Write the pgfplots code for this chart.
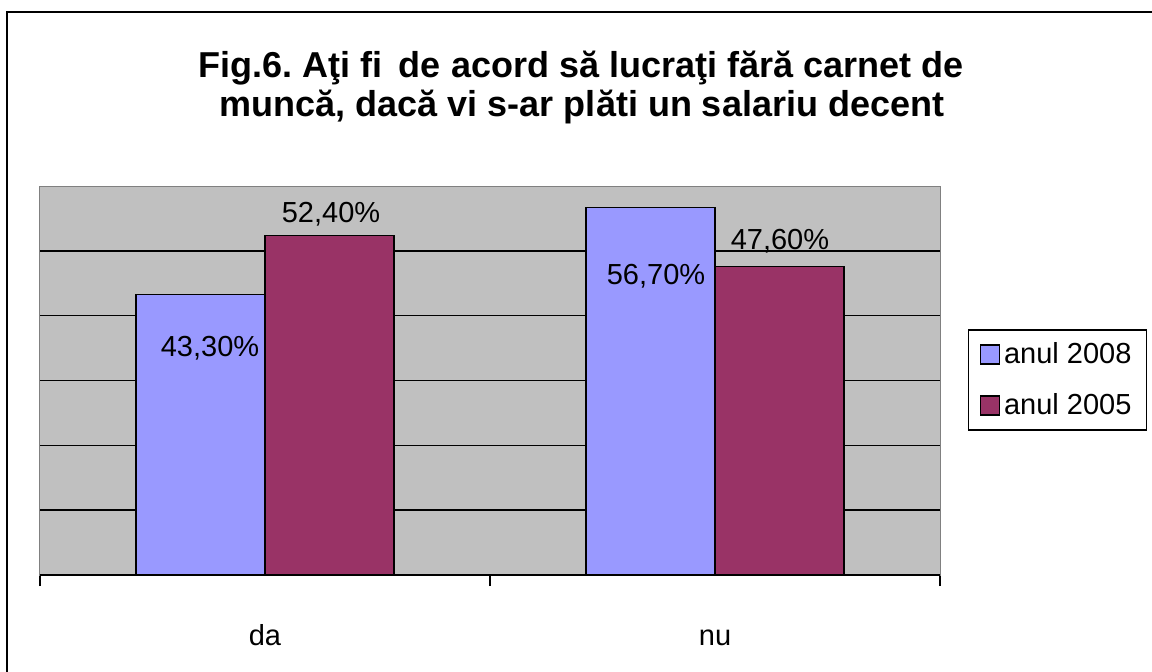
\documentclass[border=0pt]{standalone}
\usepackage{fontspec}
\setmainfont{Liberation Sans}
\usepackage{pgfplots}
\pgfplotsset{compat=1.18}
\definecolor{c2008}{HTML}{9999FF}
\definecolor{c2005}{HTML}{993366}
\definecolor{bgc}{HTML}{C0C0C0}
\frenchspacing
\begin{document}
\begin{tikzpicture}
\path[use as bounding box] (0,0) rectangle (576pt,335.5pt);
\fill[white] (0,0) rectangle (576pt,335.5pt);
\draw[line width=0.8pt] (3.5pt,-1pt) -- (3.5pt,329.5pt) -- (577pt,329.5pt);
\node[font=\fontsize{18}{19}\selectfont\bfseries, anchor=base, inner sep=0pt] at (290.5pt,296.5pt) {Fig.6. Aţi fi\hspace{0.45em}de acord să lucraţi fără carnet de};
\node[font=\fontsize{18}{19}\selectfont\bfseries, anchor=base, inner sep=0pt] at (291pt,277pt) {muncă, dacă vi s-ar plăti un salariu decent};
\begin{axis}[
  at={(20pt,48pt)}, anchor=south west,
  width=450pt, height=194.5pt, scale only axis,
  xmin=-0.5, xmax=1.5, ymin=0, ymax=60,
  axis background/.style={fill=bgc},
  axis line style={draw=gray, line width=0.5pt},
  ytick={10,20,30,40,50}, yticklabels={}, ytick style={draw=none},
  ymajorgrids, major grid style={black, line width=0.75pt},
  xtick={-0.5,0.5,1.5}, xticklabels={}, xtick pos=bottom, xtick align=outside,
  major tick length=5.5pt, xtick style={black, line width=0.75pt},
  sq legend/.style={legend image code/.code={\draw[##1, line width=0.75pt] (0pt,-4.7pt) rectangle (9.4pt,4.7pt);}},
  legend style={at={(1.0311,0.6324)}, anchor=north west, draw=black, line width=0.75pt,
    font=\fontsize{14.5}{17}\selectfont, inner xsep=5.5pt, inner ysep=4.3pt, row sep=9.5pt,
    cells={anchor=west}},
  legend cell align=left,
  font=\fontsize{14.5}{17}\selectfont,
  clip=false,
  after end axis/.code={\draw[black, line width=0.9pt] (rel axis cs:0,0) -- (rel axis cs:1,0);}
]
\addplot[ybar, bar width=0.2867, bar shift=-0.1433, fill=c2008, draw=black, line width=0.75pt, sq legend] coordinates {(0,43.3) (1,56.7)};
\addplot[ybar, bar width=0.2867, bar shift=0.1433, fill=c2005, draw=black, line width=0.75pt, sq legend] coordinates {(0,52.4) (1,47.6)};
\legend{anul 2008, anul 2005}
\node[anchor=base] at (axis cs:0.1467,54.32) {52,40\%};
\node[anchor=base] at (axis cs:-0.1222,33.71) {43,30\%};
\node[anchor=base] at (axis cs:0.8689,44.79) {56,70\%};
\node[anchor=base] at (axis cs:1.1444,50.19) {47,60\%};
\node[anchor=base, yshift=-35pt] at (axis cs:0,0) {da};
\node[anchor=base, yshift=-35pt] at (axis cs:1,0) {nu};
\end{axis}
\end{tikzpicture}
\end{document}
